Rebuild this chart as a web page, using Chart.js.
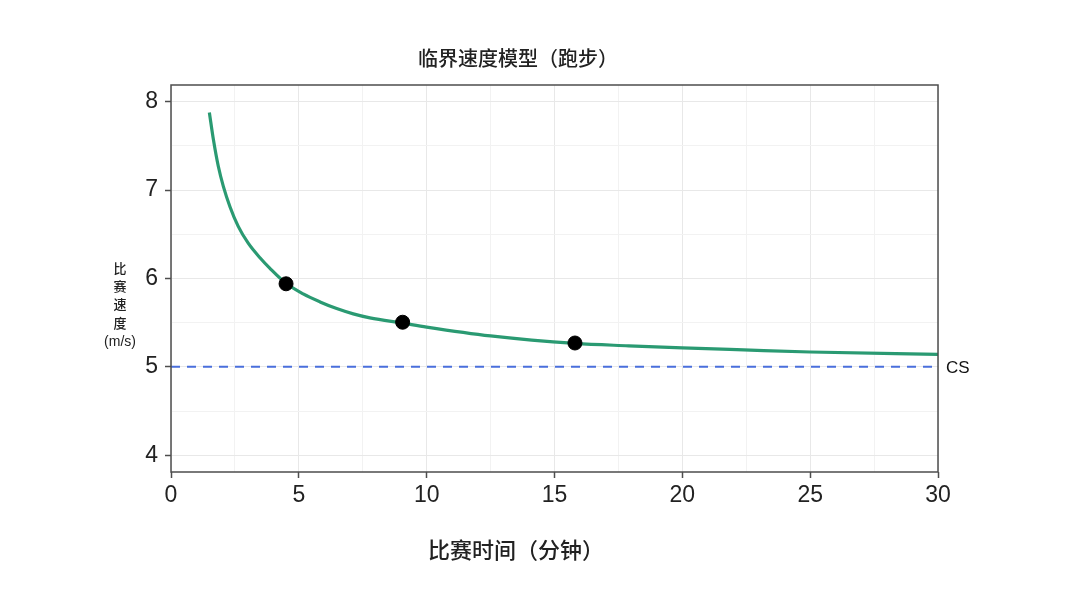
<!DOCTYPE html>
<html>
<head>
<meta charset="utf-8">
<script src="https://cdn.jsdelivr.net/npm/chart.js@4"></script>
<style>
  html, body { margin: 0; padding: 0; background: #fff; }
  #wrap { width: 1080px; height: 607px; }
</style>
</head>
<body>
<div id="wrap"><canvas id="chart" width="1080" height="607"></canvas></div>
<script>
// race time (min) / race speed (m/s)
const curveTime  = [1.50, 1.66, 1.85, 2.05, 2.31, 2.63, 3.02, 3.48, 3.87, 4.50, 5.17, 5.83, 6.48, 7.13, 7.78, 9.06, 10.0, 12.5, 15.8, 17.9, 20.0, 22.4, 25.0, 30.0];
const curveSpeed = [7.88, 7.57, 7.27, 7.04, 6.81, 6.59, 6.40, 6.235, 6.115, 5.945, 5.825, 5.735, 5.66, 5.60, 5.555, 5.495, 5.45, 5.35, 5.265, 5.238, 5.215, 5.192, 5.168, 5.142];

// measured race efforts
const raceTime  = [4.50, 9.06, 15.8];
const raceSpeed = [5.94, 5.505, 5.27];

// critical speed
const csValue = 5;
const csRange = [0, 30];

const xGrid = [0, 2.5, 5, 7.5, 10, 12.5, 15, 17.5, 20, 22.5, 25, 27.5, 30];
const yGrid = [4, 4.5, 5, 5.5, 6, 6.5, 7, 7.5, 8];

const titleText = "临界速度模型（跑步）";
const xTitle = "比赛时间（分钟）";
const yTitleLines = ["比", "赛", "速", "度", "(m/s)"];

const cjk = '"Noto Sans CJK SC", "Noto Sans", sans-serif';
const latin = '"Liberation Sans", Arial, sans-serif';

const isMajor = (v) => Number.isInteger(v);

// titles, box and CS label
const decorations = {
  id: "decorations",
  afterDraw(chart) {
    const { ctx, chartArea } = chart;
    const y = chart.scales.y;
    ctx.save();
    ctx.strokeStyle = "#4d4d4d";
    ctx.lineWidth = 1.5;
    ctx.strokeRect(chartArea.left, chartArea.top, chartArea.right - chartArea.left, chartArea.bottom - chartArea.top);

    ctx.fillStyle = "#222";
    ctx.textAlign = "center";
    ctx.textBaseline = "middle";
    ctx.font = "500 20px " + cjk;
    ctx.fillText(titleText, 518, 58);
    ctx.font = "500 22px " + cjk;
    ctx.fillText(xTitle, 516, 550);

    const ys = [268, 286, 304, 323, 342];
    yTitleLines.forEach((s, i) => {
      ctx.font = (i < 4 ? "500 13px " + cjk : "14px " + latin);
      ctx.fillText(s, 120, ys[i]);
    });

    ctx.textAlign = "left";
    ctx.font = "17px " + latin;
    ctx.fillStyle = "#111";
    ctx.fillText("CS", chartArea.right + 8, y.getPixelForValue(csValue) + 1);
    ctx.restore();
  }
};

new Chart(document.getElementById("chart"), {
  type: "scatter",
  data: {
    datasets: [
      {
        type: "line",
        label: "CS",
        data: csRange.map((t) => ({ x: t, y: csValue })),
        borderColor: "#4a6fdc",
        borderWidth: 2,
        borderDash: [9, 7],
        pointRadius: 0,
        fill: false,
        order: 3
      },
      {
        type: "line",
        label: "model",
        data: curveTime.map((t, i) => ({ x: t, y: curveSpeed[i] })),
        borderColor: "#2a9a72",
        borderWidth: 3.2,
        pointRadius: 0,
        cubicInterpolationMode: "monotone",
        fill: false,
        order: 2
      },
      {
        label: "races",
        data: raceTime.map((t, i) => ({ x: t, y: raceSpeed[i] })),
        backgroundColor: "#000",
        borderColor: "#000",
        pointRadius: 7,
        order: 1
      }
    ]
  },
  options: {
    responsive: false,
    animation: false,
    layout: { padding: { top: 85, right: 142, left: 0, bottom: 0 } },
    plugins: { legend: { display: false }, tooltip: { enabled: false }, title: { display: false } },
    scales: {
      x: {
        type: "linear",
        min: 0,
        max: 30,
        afterBuildTicks: (s) => { s.ticks = xGrid.map((v) => ({ value: v })); },
        afterFit: (s) => { s.height = 135; },
        border: { display: false },
        grid: {
          color: (c) => (c.tick && isMajor(c.tick.value) ? "#e8e8e8" : "#f2f2f2"),
          lineWidth: 1,
          tickLength: 6,
          tickColor: (c) => (c.tick && isMajor(c.tick.value) && c.tick.value % 5 === 0 ? "#4d4d4d" : "rgba(0,0,0,0)"),
          tickWidth: 1.5
        },
        ticks: {
          autoSkip: false,
          maxRotation: 0,
          padding: 4,
          color: "#222",
          font: { family: latin, size: 23 },
          callback: (v) => (v % 5 === 0 ? String(v) : "")
        }
      },
      y: {
        min: 3.81,
        max: 8.19,
        afterBuildTicks: (s) => { s.ticks = yGrid.map((v) => ({ value: v })); },
        afterFit: (s) => { s.width = 171; },
        border: { display: false },
        grid: {
          color: (c) => (c.tick && isMajor(c.tick.value) ? "#e8e8e8" : "#f2f2f2"),
          lineWidth: 1,
          tickLength: 6,
          tickColor: (c) => (c.tick && isMajor(c.tick.value) ? "#4d4d4d" : "rgba(0,0,0,0)"),
          tickWidth: 1.5
        },
        ticks: {
          autoSkip: false,
          padding: 7,
          color: "#222",
          font: { family: latin, size: 23 },
          callback: (v) => (isMajor(v) ? String(v) : "")
        }
      }
    }
  },
  plugins: [decorations]
});
</script>
</body>
</html>
